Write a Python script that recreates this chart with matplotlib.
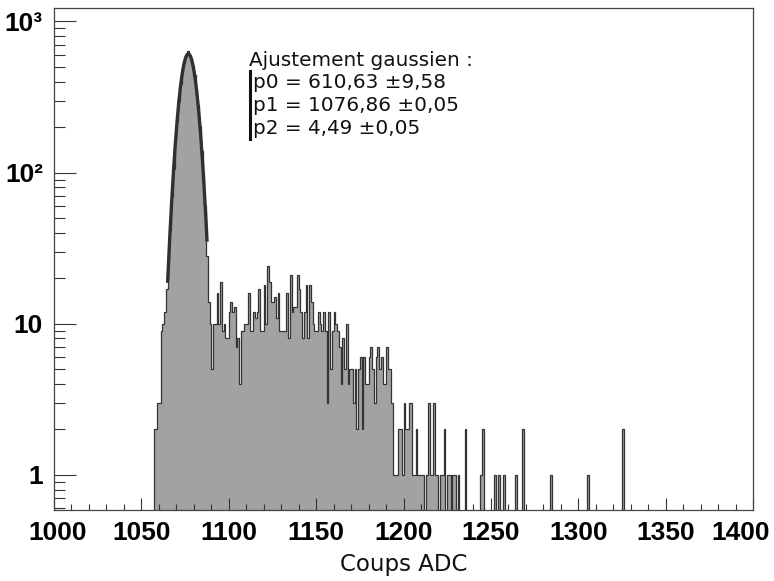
import numpy as np
import matplotlib
matplotlib.use("Agg")
import matplotlib.pyplot as plt
from matplotlib.ticker import FixedLocator, MultipleLocator, NullFormatter
from matplotlib.transforms import ScaledTranslation

# ADC spectrum, 1-count-wide bins starting at 1056
first_bin = 1056
counts = [
    0, 2, 2, 3, 3, 9, 10, 12, 17, 26,              # 1056-1065
    42, 70, 105, 162, 220, 300, 385, 455, 535, 590,  # 1066-1075
    640, 600, 575, 510, 440, 355, 280, 205, 140, 98,  # 1076-1085
    60, 28, 14, 10, 5, 10, 10, 16, 10, 19,          # 1086-1095
    9, 10, 8, 8, 12, 14, 12, 13, 7, 8,              # 1096-1105
    4, 9, 9, 10, 10, 16, 9, 9, 12, 11,              # 1106-1115
    12, 17, 9, 9, 18, 10, 24, 19, 14, 14,           # 1116-1125
    15, 11, 16, 9, 9, 9, 9, 16, 8, 21,              # 1126-1135
    12, 13, 13, 21, 17, 12, 8, 12, 18, 8,           # 1136-1145
    18, 14, 10, 9, 9, 12, 10, 9, 12, 9,             # 1146-1155
    3, 12, 5, 9, 12, 10, 9, 7, 4, 8,                # 1156-1165
    5, 10, 4, 5, 5, 3, 5, 2, 5, 6,                  # 1166-1175
    2, 6, 4, 4, 6, 7, 5, 3, 6, 7,                   # 1176-1185
    5, 6, 4, 4, 7, 5, 5, 3, 1, 1,                   # 1186-1195
    1, 2, 2, 1, 3, 2, 2, 3, 3, 1,                   # 1196-1205
    1, 2, 1, 1, 1, 1, 0, 1, 3, 1,                   # 1206-1215
    1, 3, 1, 1, 0, 1, 1, 2, 0, 1,                   # 1216-1225
    1, 0, 1, 1, 0, 1, 0, 0, 0, 2,                   # 1226-1235
    0, 0, 0, 0, 0, 0, 0, 0, 1, 2,                   # 1236-1245
    0, 0, 0, 0, 0, 0, 1, 0, 1, 0,                   # 1246-1255
    0, 1, 0, 0, 0, 0, 0, 0, 1, 0,                   # 1256-1265
    0, 0, 2, 0, 0, 0, 0, 0, 0, 0,                   # 1266-1275
    0, 0, 0, 0, 0, 0, 0, 0, 1, 0,                   # 1276-1285
    0, 0, 0, 0, 0, 0, 0, 0, 0, 0,                   # 1286-1295
    0, 0, 0, 0, 0, 0, 0, 0, 0, 1,                   # 1296-1305
    0, 0, 0, 0, 0, 0, 0, 0, 0, 0,                   # 1306-1315
    0, 0, 0, 0, 0, 0, 0, 0, 0, 2,                   # 1316-1325
    0,                                              # 1326
]

# Gaussian fit parameters and fit range
p0, p1, p2 = 610.63, 1076.86, 4.49
fit_lo, fit_hi = 1065.0, 1087.6

fit_lines = [
    "Ajustement gaussien :",
    "p0 = 610,63 \u00b19,58",
    "p1 = 1076,86 \u00b10,05",
    "p2 = 4,49 \u00b10,05",
]

x_ticks = [1000, 1050, 1100, 1150, 1200, 1250, 1300, 1350, 1400]
y_ticks = [1, 10, 100, 1000]
y_tick_labels = ["1", "10", "10\u00b2", "10\u00b3"]

W, H = 774, 581
fig = plt.figure(figsize=(W / 100, H / 100), dpi=100)
ax = fig.add_axes([54 / W, 1 - 509.6 / H, (753 - 54) / W, (509.6 - 8) / H])

ymin, ymax = 0.59, 1228
vals = np.array(counts, dtype=float)
vals_plot = np.where(vals > 0, vals, 1e-3)
edges = np.arange(first_bin, first_bin + len(counts) + 1)

ax.stairs(vals_plot, edges, baseline=1e-3, fill=True,
          facecolor="#a2a2a2", edgecolor="none", zorder=1)
ax.stairs(vals_plot, edges, baseline=1e-3, fill=False,
          color="#333333", linewidth=0.9, zorder=2)

xf = np.linspace(fit_lo, fit_hi, 300)
ax.plot(xf, p0 * np.exp(-0.5 * ((xf - p1) / p2) ** 2),
        color="#303030", linewidth=2.4, zorder=3, solid_capstyle="butt")

ax.set_yscale("log")
ax.set_xlim(1000, 1400)
ax.set_ylim(ymin, ymax)

bold = dict(family="Liberation Sans", weight="bold", size=19)
ax.xaxis.set_major_locator(FixedLocator(x_ticks))
ax.xaxis.set_minor_locator(MultipleLocator(10))
ax.set_xticklabels([str(t) for t in x_ticks], fontdict=bold)
ax.yaxis.set_major_locator(FixedLocator(y_ticks))
minors = [m * 10 ** e for e in range(-1, 4) for m in range(2, 10)]
ax.yaxis.set_minor_locator(FixedLocator(minors))
ax.yaxis.set_minor_formatter(NullFormatter())
ax.set_yticklabels(y_tick_labels, fontdict=bold)

ax.tick_params(axis="x", which="major", direction="in", length=8.5,
               width=0.8, color="#333333", pad=8, top=False)
ax.tick_params(axis="x", which="minor", direction="in", length=4.3,
               width=0.8, color="#333333", top=False)
ax.tick_params(axis="y", which="major", direction="in", length=16,
               width=0.8, color="#333333", pad=8, right=False)
ax.tick_params(axis="y", which="minor", direction="in", length=8,
               width=0.8, color="#333333", right=False)
for s in ax.spines.values():
    s.set_color("#444444")
    s.set_linewidth(0.9)

# keep the outermost x labels inside the canvas
major_ticks = ax.xaxis.get_major_ticks()
first_lbl = major_ticks[0].label1
last_lbl = major_ticks[-1].label1
first_lbl.set_transform(first_lbl.get_transform()
                        + ScaledTranslation(4 / 100, 0, fig.dpi_scale_trans))
last_lbl.set_transform(last_lbl.get_transform()
                       + ScaledTranslation(-12 / 100, 0, fig.dpi_scale_trans))

fig.text(403.5 / W, 1 - 565 / H, "Coups ADC", ha="center", va="center",
         family="DejaVu Sans", size=16.5, color="#111111")

# fit result box
fig.text(249 / W, 1 - 60 / H, fit_lines[0], ha="left", va="center",
         family="DejaVu Sans", size=14.4, color="#111111")
for i, line in enumerate(fit_lines[1:]):
    fig.text(253 / W, 1 - (83 + 22.5 * i) / H, line, ha="left", va="center",
             family="DejaVu Sans", size=14.4, color="#111111")
fig.add_artist(plt.Line2D([250 / W, 250 / W], [1 - 71 / H, 1 - 139 / H],
                          transform=fig.transFigure, color="#111111",
                          linewidth=2.2))

fig.savefig("out.png", dpi=100, facecolor="white")
